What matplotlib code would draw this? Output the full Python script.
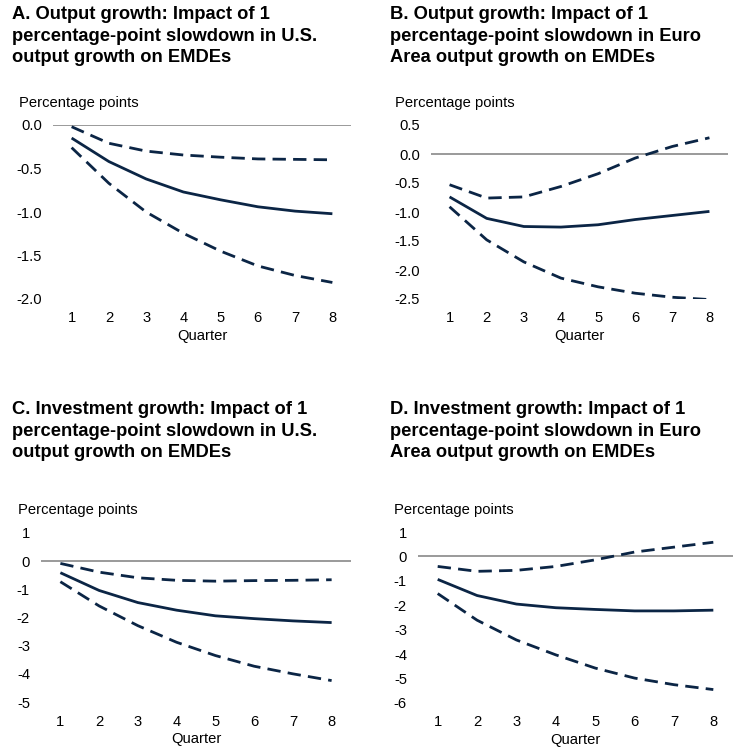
import matplotlib
matplotlib.use("Agg")
import matplotlib.pyplot as plt

plt.rcParams["font.family"] = ["Liberation Sans", "DejaVu Sans"]

W, H = 736, 749
NAVY = "#0B2545"
ZERO = "#7F7F7F"

quarters = [1, 2, 3, 4, 5, 6, 7, 8]

# Panel A: US slowdown -> EMDE output growth
a_mid = [-0.15, -0.42, -0.62, -0.77, -0.86, -0.94, -0.99, -1.02]
a_up = [-0.02, -0.21, -0.30, -0.345, -0.37, -0.39, -0.395, -0.40]
a_lo = [-0.26, -0.67, -1.00, -1.245, -1.45, -1.62, -1.73, -1.81]

# Panel B: Euro Area slowdown -> EMDE output growth
b_mid = [-0.74, -1.11, -1.25, -1.26, -1.22, -1.13, -1.06, -0.99]
b_up = [-0.53, -0.76, -0.74, -0.56, -0.34, -0.07, 0.13, 0.28]
b_lo = [-0.91, -1.48, -1.86, -2.14, -2.29, -2.40, -2.47, -2.51]

# Panel C: US slowdown -> EMDE investment growth
c_mid = [-0.41, -1.04, -1.47, -1.74, -1.94, -2.04, -2.12, -2.18]
c_up = [-0.08, -0.39, -0.59, -0.68, -0.71, -0.69, -0.68, -0.66]
c_lo = [-0.73, -1.59, -2.29, -2.88, -3.35, -3.73, -4.00, -4.24]

# Panel D: Euro Area slowdown -> EMDE investment growth
d_mid = [-0.94, -1.60, -1.95, -2.10, -2.17, -2.23, -2.23, -2.20]
d_up = [-0.41, -0.61, -0.57, -0.41, -0.14, 0.18, 0.38, 0.58]
d_lo = [-1.52, -2.61, -3.42, -4.03, -4.57, -4.98, -5.25, -5.45]

titles = [
    "A. Output growth: Impact of 1\npercentage-point slowdown in U.S.\noutput growth on EMDEs",
    "B. Output growth: Impact of 1\npercentage-point slowdown in Euro\nArea output growth on EMDEs",
    "C. Investment growth: Impact of 1\npercentage-point slowdown in U.S.\noutput growth on EMDEs",
    "D. Investment growth: Impact of 1\npercentage-point slowdown in Euro\nArea output growth on EMDEs",
]

a_ticks = [0.0, -0.5, -1.0, -1.5, -2.0]
b_ticks = [0.5, 0.0, -0.5, -1.0, -1.5, -2.0, -2.5]
c_ticks = [1, 0, -1, -2, -3, -4, -5]
d_ticks = [1, 0, -1, -2, -3, -4, -5, -6]

# (left, right, top, bottom) of each plot area in pixels, title x/y, unit label x/y
panels = [
    dict(box=(53, 351, 125, 299), tx=12, ty=10, ux=19, uy=103, mid=a_mid, up=a_up, lo=a_lo,
         ticks=a_ticks, fmt="{:.1f}"),
    dict(box=(431, 728, 125, 299), tx=390, ty=10, ux=395, uy=103, mid=b_mid, up=b_up, lo=b_lo,
         ticks=b_ticks, fmt="{:.1f}"),
    dict(box=(41, 351, 533, 702), tx=12, ty=405, ux=18, uy=510, mid=c_mid, up=c_up, lo=c_lo,
         ticks=c_ticks, fmt="{:d}"),
    dict(box=(418, 733, 532, 703), tx=390, ty=405, ux=394, uy=510, mid=d_mid, up=d_up, lo=d_lo,
         ticks=d_ticks, fmt="{:d}"),
]

fig = plt.figure(figsize=(W / 100, H / 100), dpi=100)

for p, title in zip(panels, titles):
    l, r, t, b = p["box"]
    ax = fig.add_axes([l / W, 1 - b / H, (r - l) / W, (b - t) / H])
    ax.axhline(0, color=ZERO, lw=1.1, zorder=1)
    ax.plot(quarters, p["mid"], color=NAVY, lw=2.0, solid_capstyle="butt", zorder=3)
    for s in (p["up"], p["lo"]):
        ax.plot(quarters, s, color=NAVY, lw=2.0, ls=(0, (4.8, 2.6)), zorder=3)
    ax.set_xlim(0.5, 8.5)
    ax.set_ylim(min(p["ticks"]), max(p["ticks"]))
    ax.set_xticks(quarters)
    ax.set_yticks(p["ticks"])
    ax.set_yticklabels([p["fmt"].format(v) for v in p["ticks"]])
    for sp in ax.spines.values():
        sp.set_visible(False)
    ax.tick_params(length=0, labelsize=10.6, pad=8)
    ax.tick_params(axis="x", pad=9)
    ax.set_xlabel("Quarter", fontsize=10.6, labelpad=2.5)
    ax.patch.set_alpha(0)
    fig.text(p["tx"] / W, 1 - (p["ty"] - 4) / H, title, fontsize=13.2, fontweight="bold",
             ha="left", va="top", linespacing=1.36)
    fig.text(p["ux"] / W, 1 - p["uy"] / H, "Percentage points", fontsize=10.6,
             ha="left", va="center")

fig.savefig("out.png", dpi=100)
